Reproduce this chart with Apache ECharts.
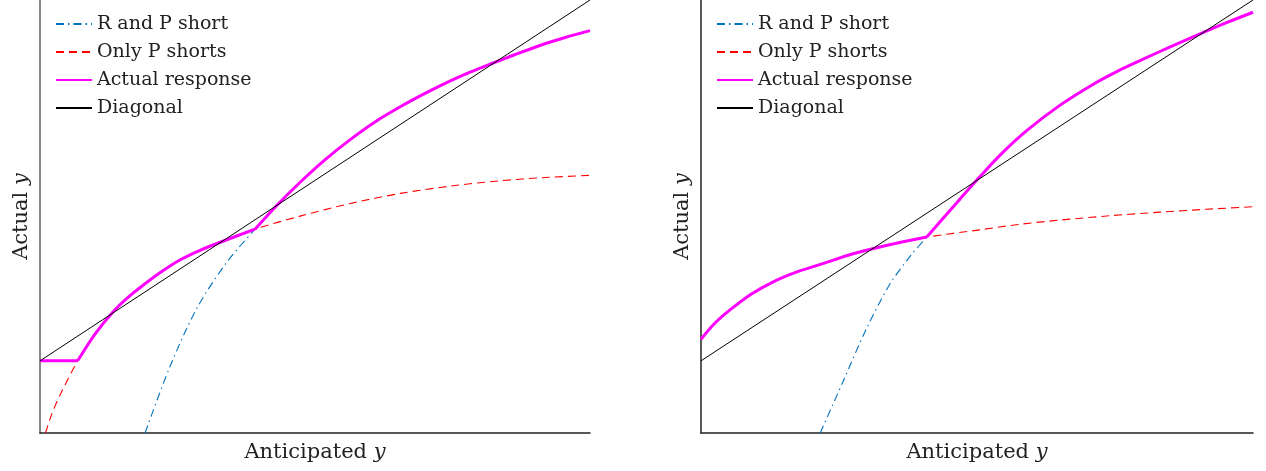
<!DOCTYPE html>
<html>
<head>
<meta charset="utf-8">
<script src="https://cdn.jsdelivr.net/npm/echarts@6/dist/echarts.min.js"></script>
<style>
  html, body { margin: 0; padding: 0; background: #fff; }
  #chart { width: 1266px; height: 471px; }
</style>
</head>
<body>
<div id="chart"></div>
<script>
// Legend entries
const seriesNames = ['R and P short', 'Only P shorts', 'Actual response', 'Diagonal'];

// Left panel: [anticipated, actual]
const leftBoth = [[1.91,-2.0],[2.36,-0.17],[2.85,1.45],[3.39,2.72],[3.91,3.65],[4.30,4.30],[4.73,4.95],[5.18,5.57],[5.64,6.13],[6.09,6.62],[6.55,7.04],[7.00,7.41],[7.45,7.75],[7.82,8.00],[8.18,8.22],[8.64,8.49],[9.09,8.74],[9.55,8.96],[10,9.15]];
const leftOnlyP = [[0.1,-2.0],[0.22,-1.45],[0.38,-0.90],[0.685,0.0],[1.00,0.74],[1.33,1.36],[1.60,1.76],[1.88,2.10],[2.20,2.46],[2.55,2.80],[2.92,3.07],[3.30,3.30],[3.91,3.65],[4.73,4.01],[5.64,4.36],[6.55,4.64],[7.45,4.84],[8.36,4.99],[9.18,5.08],[10,5.14]];
const leftFloor = [[0,0],[0.685,0]];
const leftSwitch = 3.91;

// Right panel: [anticipated, actual]
const rightBoth = [[2.16,-2.0],[2.58,-0.55],[3.00,0.90],[3.42,2.12],[3.79,2.90],[4.09,3.43],[4.69,4.48],[5.05,5.10],[5.45,5.75],[5.90,6.38],[6.50,7.08],[7.10,7.66],[7.55,8.03],[8.01,8.36],[8.50,8.70],[9.04,9.06],[9.52,9.37],[10,9.66]];
const rightOnlyP = [[0,0.6],[0.25,1.04],[0.525,1.41],[0.90,1.84],[1.31,2.19],[1.75,2.47],[2.22,2.70],[2.65,2.92],[3.09,3.10],[3.60,3.28],[4.09,3.43],[5.05,3.63],[5.75,3.78],[6.50,3.90],[7.40,4.02],[8.31,4.12],[9.15,4.20],[10,4.27]];
const rightSwitch = 4.09;

const diagonal = [[0,0],[10,10]];

const SERIF = 'DejaVu Serif';
const BLUE = '#0072BD', RED = '#FF0000', MAGENTA = '#FF00FF', BLACK = '#000000';
const SMOOTH = 0.3;

function upTo(arr, x) { return arr.filter(p => p[0] <= x); }
function from(arr, x) { return arr.filter(p => p[0] >= x); }

function panelSeries(idx, both, onlyP, sw, floorPts) {
  const base = { type: 'line', xAxisIndex: idx, yAxisIndex: idx, symbol: 'none', showSymbol: false, silent: true, animation: false, clip: true };
  const actualStyle = { color: MAGENTA, width: 3 };
  const out = [
    Object.assign({}, base, { name: seriesNames[0], data: both, smooth: SMOOTH,
      itemStyle: { color: BLUE }, lineStyle: { color: BLUE, width: 1.1, type: [8, 4, 1.5, 4] } }),
    Object.assign({}, base, { name: seriesNames[1], data: onlyP, smooth: SMOOTH,
      itemStyle: { color: RED }, lineStyle: { color: RED, width: 1.1, type: [8, 5] } })
  ];
  const lowStart = floorPts ? floorPts[floorPts.length - 1][0] : -Infinity;
  if (floorPts) {
    out.push(Object.assign({}, base, { name: seriesNames[2], data: floorPts,
      itemStyle: { color: MAGENTA }, lineStyle: actualStyle }));
  }
  out.push(Object.assign({}, base, { name: seriesNames[2], data: upTo(onlyP, sw).filter(p => p[0] >= lowStart),
    smooth: SMOOTH, itemStyle: { color: MAGENTA }, lineStyle: actualStyle }));
  out.push(Object.assign({}, base, { name: seriesNames[2], data: from(both, sw),
    smooth: SMOOTH, itemStyle: { color: MAGENTA }, lineStyle: actualStyle }));
  out.push(Object.assign({}, base, { name: seriesNames[3], data: diagonal,
    itemStyle: { color: BLACK }, lineStyle: { color: BLACK, width: 1 } }));
  return out;
}

const nameRich = {
  r: { fontFamily: SERIF, fontSize: 21, color: '#222' },
  i: { fontFamily: SERIF, fontSize: 21, fontStyle: 'italic', color: '#222' }
};

function xAxisFor(idx) {
  return {
    type: 'value', gridIndex: idx, min: 0, max: 10,
    axisLine: { show: true, onZero: false, lineStyle: { color: '#222', width: 1.5 } },
    axisTick: { show: false }, axisLabel: { show: false }, splitLine: { show: false },
    name: '{r|Anticipated }{i|y}', nameLocation: 'middle', nameGap: 9,
    nameTextStyle: { verticalAlign: 'top', rich: nameRich }
  };
}
function yAxisFor(idx, color, width) {
  return {
    type: 'value', gridIndex: idx, min: -2, max: 10,
    axisLine: { show: true, onZero: false, lineStyle: { color: color, width: width } },
    axisTick: { show: false }, axisLabel: { show: false }, splitLine: { show: false },
    name: '{r|Actual }{i|y}', nameLocation: 'middle', nameGap: 8, nameRotate: 90,
    nameTextStyle: { verticalAlign: 'bottom', rich: nameRich }
  };
}
function legendAt(left) {
  return {
    orient: 'vertical', left: left, top: 9, data: seriesNames, selectedMode: false,
    itemWidth: 36, itemHeight: 14, itemGap: 8,
    itemStyle: { color: 'rgba(0,0,0,0)', borderWidth: 0, opacity: 0 },
    textStyle: { fontFamily: SERIF, fontSize: 19, color: '#222', lineHeight: 20 }
  };
}

const chart = echarts.init(document.getElementById('chart'), null, { renderer: 'canvas' });
chart.setOption({
  backgroundColor: '#ffffff',
  animation: false,
  grid: [
    { left: 40, right: 676, top: 0, bottom: 38, containLabel: false, outerBoundsMode: 'none' },
    { left: 701, right: 13, top: 0, bottom: 38, containLabel: false, outerBoundsMode: 'none' }
  ],
  xAxis: [xAxisFor(0), xAxisFor(1)],
  yAxis: [yAxisFor(0, '#888', 2), yAxisFor(1, '#222', 1.5)],
  legend: [legendAt(50), legendAt(711)],
  series: panelSeries(0, leftBoth, leftOnlyP, leftSwitch, leftFloor)
    .concat(panelSeries(1, rightBoth, rightOnlyP, rightSwitch, null))
});
</script>
</body>
</html>
